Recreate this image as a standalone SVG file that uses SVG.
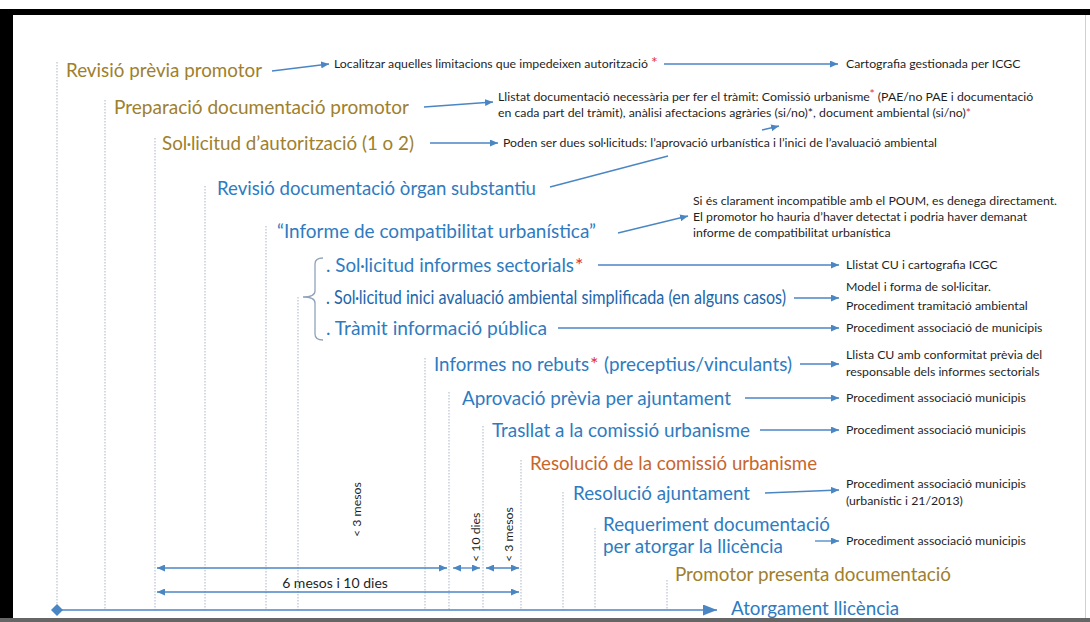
<svg xmlns="http://www.w3.org/2000/svg" width="1090" height="622" viewBox="0 0 1090 622">
<defs>
<style>
.lab{font-family:Lato,"Open Sans","Liberation Sans",sans-serif;font-size:20px}
.ol{fill:#9E802D}
.bl{fill:#2E7BC1}
.db{fill:#2266AA}
.or{fill:#C8652C}
.sm{font-family:Lato,"Open Sans","Liberation Sans",sans-serif;font-size:12.3px;fill:#1f1f1f}
.ast{fill:#E3323C}
.conn{stroke:#4A86C4;stroke-width:1.3;fill:none}
.vl{stroke:#A7B5C6;stroke-width:1;stroke-dasharray:1.5 1.5;fill:none}
.br{stroke:#8FA3B9;stroke-width:1.3;fill:none}
</style>
<marker id="ah" markerUnits="userSpaceOnUse" markerWidth="8" markerHeight="7" refX="8" refY="3.5" orient="auto-start-reverse">
<path d="M0,0 L8,3.5 L0,7 z" fill="#4A86C4"/>
</marker>
<marker id="big" markerUnits="userSpaceOnUse" markerWidth="14" markerHeight="11" refX="14" refY="5.5" orient="auto">
<path d="M0,0 L14,5.5 L0,11 z" fill="#4A86C4"/>
</marker>
</defs>
<rect x="0" y="0" width="1090" height="622" fill="#ffffff"/>
<g id="frame">
<rect x="0" y="9" width="1090" height="6" fill="#000"/>
<rect x="0" y="9" width="13" height="613" fill="#000"/>
<line x1="1085.5" y1="15" x2="1085.5" y2="618" stroke="#cfcfcf" stroke-width="1"/>
<rect x="0" y="618" width="1090" height="4" fill="#666"/>
</g>
<g id="guides">
<path class="vl" d="M57,62V610 M105,100V610 M155,138V610 M205,186V610 M266,226V610 M298,297V610 M425,358V610 M449,392V610 M483,426V610 M521,460V610 M563,492V610 M595,528V610 M667,580V610"/>
</g>
<g id="connectors">
<path class="conn" d="M272,71 L329,64" marker-end="url(#ah)"/>
<path class="conn" d="M664,64 L838,64" marker-end="url(#ah)"/>
<path class="conn" d="M424,107 L493,102" marker-end="url(#ah)"/>
<path class="conn" d="M430,143 L498,143" marker-end="url(#ah)"/>
<path class="conn" d="M762,130 L779,126" marker-end="url(#ah)"/>
<path class="conn" d="M550,187 L668,156"/>
<path class="conn" d="M618,233 L688,216" marker-end="url(#ah)"/>
<path class="conn" d="M598,265 L839,265" marker-end="url(#ah)"/>
<path class="conn" d="M794,298 L839,298" marker-end="url(#ah)"/>
<path class="conn" d="M558,328 L839,328" marker-end="url(#ah)"/>
<path class="conn" d="M800,364 L839,364" marker-end="url(#ah)"/>
<path class="conn" d="M745,398 L839,398" marker-end="url(#ah)"/>
<path class="conn" d="M760,430 L839,430" marker-end="url(#ah)"/>
<path class="conn" d="M765,493 L839,490" marker-end="url(#ah)"/>
<path class="conn" d="M815,541 L839,541" marker-end="url(#ah)"/>
<path class="conn" d="M157,568 L447,568" marker-start="url(#ah)" marker-end="url(#ah)"/>
<path class="conn" d="M453,568 L480,568" marker-start="url(#ah)" marker-end="url(#ah)"/>
<path class="conn" d="M486,568 L519,568" marker-start="url(#ah)" marker-end="url(#ah)"/>
<path class="conn" d="M157,592 L519,592" marker-start="url(#ah)" marker-end="url(#ah)"/>
<path class="conn" d="M57,610 L717,610" stroke-width="1.6" marker-end="url(#big)"/>
<path d="M57,604 L63,610 L57,616 L51,610 z" fill="#4A86C4"/>
<path class="br" d="M323,258 Q315,258 315,264 L315,291 Q315,297 303,297 Q315,297 315,303 L315,334 Q315,340 323,340"/>
</g>
<g id="durations" class="sm">
<text transform="translate(361,537) rotate(-90)">&lt; 3 mesos</text>
<text transform="translate(480,562) rotate(-90)">&lt; 10 dies</text>
<text transform="translate(513,562) rotate(-90)">&lt; 3 mesos</text>
<text x="335" y="588" text-anchor="middle" font-size="14">6 mesos i 10 dies</text>
</g>
<g id="n-revisio-previa">
<text class="lab ol" x="66" y="77" textLength="196" lengthAdjust="spacingAndGlyphs">Revisió prèvia promotor</text>
<text class="sm" x="334" y="68">Localitzar aquelles limitacions que impedeixen autorització</text>
<text class="ast" x="651" y="68" font-family="Lato,sans-serif" font-size="16">*</text>
<text class="sm" x="846" y="68">Cartografia gestionada per ICGC</text>
</g>
<g id="n-preparacio">
<text class="lab ol" x="114" y="114" textLength="295" lengthAdjust="spacingAndGlyphs">Preparació documentació promotor</text>
<text class="sm" x="498" y="101">Llistat documentació necessària per fer el tràmit: Comissió urbanisme<tspan class="ast" dy="-3">*</tspan><tspan dy="3"> (PAE/no PAE i documentació</tspan></text>
<text class="sm" x="498" y="117">en cada part del tràmit), anàlisi afectacions agràries (si/no)*, document ambiental (si/no)<tspan class="ast">*</tspan></text>
</g>
<g id="n-sollicitud-autoritzacio">
<text class="lab ol" x="162" y="150" textLength="252" lengthAdjust="spacingAndGlyphs">Sol·licitud d’autorització (1 o 2)</text>
<text class="sm" x="503" y="147">Poden ser dues sol·licituds: l’aprovació urbanística i l’inici de l’avaluació ambiental</text>
</g>
<g id="n-revisio-documentacio">
<text class="lab bl" x="217" y="195" textLength="319" lengthAdjust="spacingAndGlyphs">Revisió documentació òrgan substantiu</text>
</g>
<g id="n-informe-compatibilitat">
<text class="lab bl" x="277" y="238" textLength="319" lengthAdjust="spacingAndGlyphs">“Informe de compatibilitat urbanística”</text>
<text class="sm" x="693" y="205">Si és clarament incompatible amb el POUM, es denega directament.</text>
<text class="sm" x="693" y="221">El promotor ho hauria d’haver detectat i podria haver demanat</text>
<text class="sm" x="693" y="237">informe de compatibilitat urbanística</text>
</g>
<g id="n-informes-sectorials">
<text class="lab bl" x="326" y="272" textLength="248" lengthAdjust="spacingAndGlyphs">. Sol·licitud informes sectorials</text>
<text class="lab ast" x="575" y="272">*</text>
<text class="sm" x="846" y="269">Llistat CU i cartografia ICGC</text>
</g>
<g id="n-avaluacio-ambiental">
<text class="lab db" x="326" y="304" font-size="16" textLength="460" lengthAdjust="spacingAndGlyphs">. Sol·licitud inici avaluació ambiental simplificada (en alguns casos)</text>
<text class="sm" x="846" y="291">Model i forma de sol·licitar.</text>
<text class="sm" x="846" y="310">Procediment tramitació ambiental</text>
</g>
<g id="n-informacio-publica">
<text class="lab bl" x="326" y="335" textLength="221" lengthAdjust="spacingAndGlyphs">. Tràmit informació pública</text>
<text class="sm" x="846" y="332">Procediment associació de municipis</text>
</g>
<g id="n-informes-no-rebuts">
<text class="lab bl" x="434" y="371" textLength="155" lengthAdjust="spacingAndGlyphs">Informes no rebuts</text>
<text class="lab ast" x="590" y="371">*</text>
<text class="lab bl" x="604" y="371" textLength="188" lengthAdjust="spacingAndGlyphs">(preceptius/vinculants)</text>
<text class="sm" x="846" y="359">Llista CU amb conformitat prèvia del</text>
<text class="sm" x="846" y="376">responsable dels informes sectorials</text>
</g>
<g id="n-aprovacio-previa">
<text class="lab bl" x="462" y="405" textLength="269" lengthAdjust="spacingAndGlyphs">Aprovació prèvia per ajuntament</text>
<text class="sm" x="846" y="402">Procediment associació municipis</text>
</g>
<g id="n-trasllat">
<text class="lab bl" x="492" y="437" textLength="258" lengthAdjust="spacingAndGlyphs">Trasllat a la comissió urbanisme</text>
<text class="sm" x="846" y="434">Procediment associació municipis</text>
</g>
<g id="n-resolucio-comissio">
<text class="lab or" x="530" y="470" textLength="287" lengthAdjust="spacingAndGlyphs">Resolució de la comissió urbanisme</text>
</g>
<g id="n-resolucio-ajuntament">
<text class="lab bl" x="573" y="500" textLength="177" lengthAdjust="spacingAndGlyphs">Resolució ajuntament</text>
<text class="sm" x="846" y="488">Procediment associació municipis</text>
<text class="sm" x="846" y="505">(urbanístic i 21/2013)</text>
</g>
<g id="n-requeriment">
<text class="lab bl" x="603" y="531" textLength="227" lengthAdjust="spacingAndGlyphs">Requeriment documentació</text>
<text class="lab bl" x="603" y="553" textLength="180" lengthAdjust="spacingAndGlyphs">per atorgar la llicència</text>
<text class="sm" x="846" y="545">Procediment associació municipis</text>
</g>
<g id="n-promotor-presenta">
<text class="lab ol" x="675" y="581" textLength="276" lengthAdjust="spacingAndGlyphs">Promotor presenta documentació</text>
</g>
<g id="n-atorgament">
<text class="lab bl" x="731" y="615" textLength="168" lengthAdjust="spacingAndGlyphs">Atorgament llicència</text>
</g>
</svg>
